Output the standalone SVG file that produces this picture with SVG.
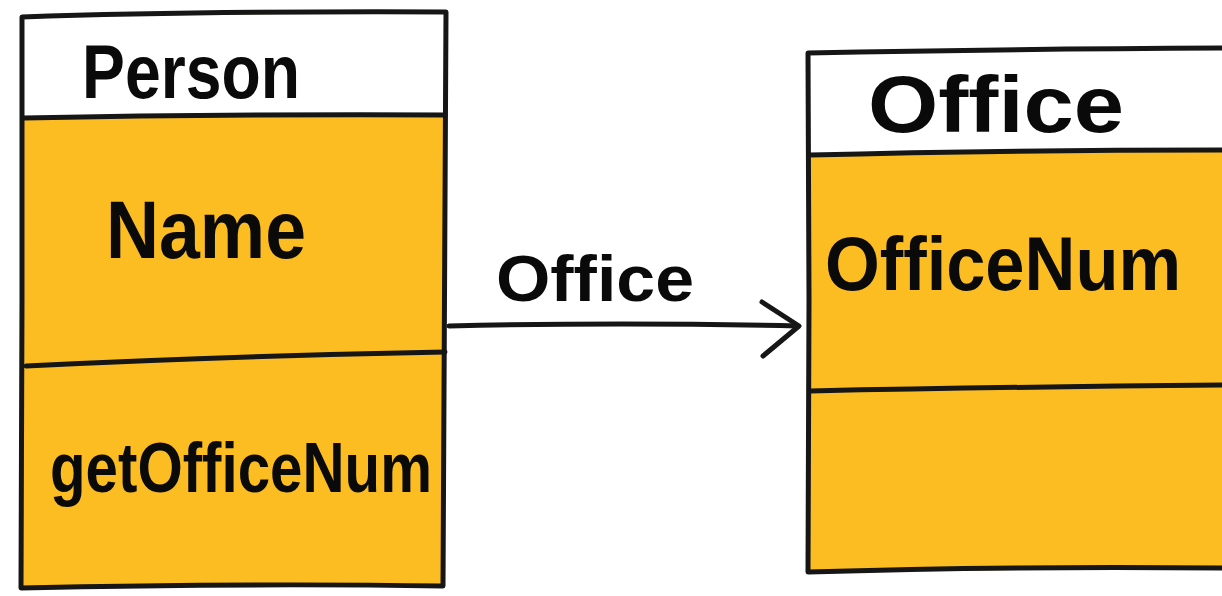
<svg xmlns="http://www.w3.org/2000/svg" width="1222" height="596" viewBox="0 0 1222 596">
<style>
.ln{fill:none;stroke:#161616;stroke-width:5;stroke-linecap:round;stroke-linejoin:round}
.hd{fill:#ffffff}
.bd{fill:#FCBD23}
.tx{font-family:"Liberation Sans","DejaVu Sans",sans-serif;fill:#0a0a0a;font-weight:bold}
</style>
<rect width="1222" height="596" fill="#ffffff"/>
<g id="person">
<path class="bd" d="M22,17 L446,12 L443,586 L21,588 Z"/>
<path class="hd" d="M22,17 L446,12 L445,116 L23,118 Z"/>
<path class="ln" d="M22,17 Q200,11 446,12 L445,200 L443,586 Q250,583 21,588 L22,300 Z"/>
<path class="ln" d="M24,118 Q230,114 445,115"/>
<path class="ln" d="M26,366 Q230,356 445,352"/>
<text class="tx" x="82" y="98" font-size="76" textLength="218" lengthAdjust="spacingAndGlyphs">Person</text>
<text class="tx" x="106" y="258" font-size="82" textLength="200" lengthAdjust="spacingAndGlyphs">Name</text>
<text class="tx" x="50" y="492" font-size="70" textLength="382" lengthAdjust="spacingAndGlyphs">getOfficeNum</text>
</g>
<g id="office">
<path class="bd" d="M808,53 L1222,48 L1222,568 L808,572 Z"/>
<path class="hd" d="M808,53 L1222,48 L1222,151 L809,155 Z"/>
<path class="ln" d="M1224,48 Q1000,49 808,53 L809,300 L808,572 Q1000,566 1224,568"/>
<path class="ln" d="M810,155 Q1000,150 1224,150"/>
<path class="ln" d="M810,391 Q1000,387 1224,385"/>
<text class="tx" x="868" y="132" font-size="80" textLength="256" lengthAdjust="spacingAndGlyphs">Office</text>
<text class="tx" x="825" y="290" font-size="76" textLength="356" lengthAdjust="spacingAndGlyphs">OfficeNum</text>
</g>
<g id="connectors">
<path class="ln" d="M449,326 Q620,322 798,326"/>
<path class="ln" d="M762,302 L799,326 L763,356"/>
<text class="tx" x="496" y="301" font-size="64" textLength="198" lengthAdjust="spacingAndGlyphs">Office</text>
</g>
</svg>
